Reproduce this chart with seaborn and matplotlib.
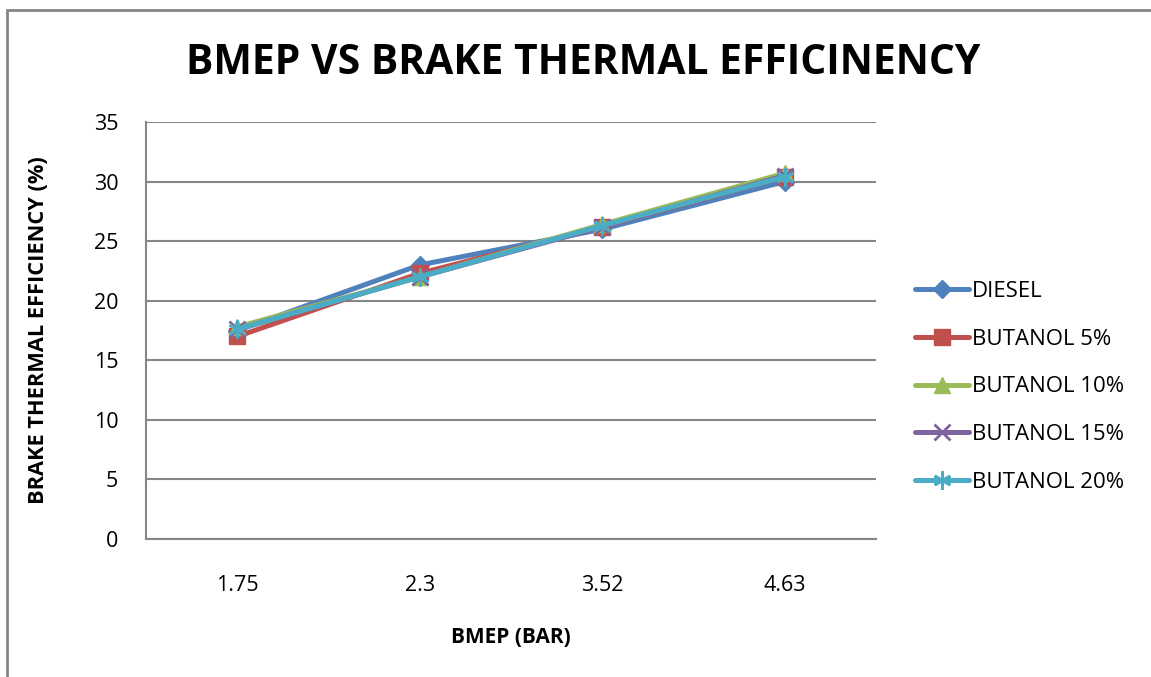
import pandas as pd
import seaborn as sns
import matplotlib.pyplot as plt
from matplotlib.patches import Rectangle

bmep = ["1.75", "2.3", "3.52", "4.63"]
diesel = [17.5, 23.0, 26.0, 30.0]
butanol_5 = [17.0, 22.3, 26.2, 30.4]
butanol_10 = [17.8, 22.0, 26.4, 30.7]
butanol_15 = [17.6, 22.0, 26.2, 30.5]
butanol_20 = [17.6, 22.0, 26.3, 30.4]

series = {
    "DIESEL": diesel,
    "BUTANOL 5%": butanol_5,
    "BUTANOL 10%": butanol_10,
    "BUTANOL 15%": butanol_15,
    "BUTANOL 20%": butanol_20,
}
colors = ["#4F81BD", "#C0504D", "#9BBB59", "#8064A2", "#4BACC6"]
markers = ["D", "s", "^", "x", (6, 2, 0)]
sizes = [9, 11, 11, 11, 13]

rows = []
for name, vals in series.items():
    for x, v in zip(bmep, vals):
        rows.append({"bmep": x, "bte": v, "fuel": name})
df = pd.DataFrame(rows)

sns.set_theme(style="white")
plt.rcParams["font.family"] = ["Open Sans", "DejaVu Sans"]
plt.rcParams["text.color"] = "black"

fig = plt.figure(figsize=(11.51, 6.77), dpi=100)
ax = fig.add_axes([146 / 1151, 1 - 539 / 677, 730 / 1151, 417 / 677])

for (name, _), c, m, s in zip(series.items(), colors, markers, sizes):
    sub = df[df["fuel"] == name]
    sns.lineplot(data=sub, x="bmep", y="bte", ax=ax, color=c, marker=m,
                 markersize=s, linewidth=3.6, label=name,
                 markeredgecolor=c, markeredgewidth=2 if m in ("x", (6, 2, 0)) else 1)

ax.set_xlim(-0.5, 3.5)
ax.set_ylim(0, 35)
ax.set_yticks(range(0, 36, 5))
ax.yaxis.grid(True, color="#868686", linewidth=1.5)
ax.xaxis.grid(False)
for side in ["top", "right"]:
    ax.spines[side].set_visible(False)
for side in ["left", "bottom"]:
    ax.spines[side].set_color("#868686")
    ax.spines[side].set_linewidth(1.5)
ax.tick_params(axis="both", length=0, labelsize=15.5, colors="black")
ax.tick_params(axis="x", pad=26)
ax.tick_params(axis="y", pad=20)

ax.set_xlabel("BMEP (BAR)", fontsize=15, fontweight="bold", labelpad=22, color="black")
ax.set_ylabel("BRAKE THERMAL EFFICIENCY (%)", fontsize=15.7, fontweight="bold",
              labelpad=32, color="black")

fig.text(583 / 1151, 1 - 64 / 677, "BMEP VS BRAKE THERMAL EFFICINENCY",
         ha="center", va="center", fontsize=29.4, fontweight="bold", color="black")

leg = ax.legend(loc="center left", bbox_to_anchor=(1.053, 0.365), frameon=False,
                borderaxespad=0, borderpad=0,
                fontsize=16, handlelength=2.45, handletextpad=0.12, labelspacing=1.2)
for t in leg.get_texts():
    t.set_color("black")

fig.patches.append(Rectangle((7 / 1151, -0.1), 1.2, 1 - 10 / 677 + 0.1,
                             transform=fig.transFigure, fill=False,
                             edgecolor="#868686", linewidth=2))

fig.savefig("out.png", dpi=100)
